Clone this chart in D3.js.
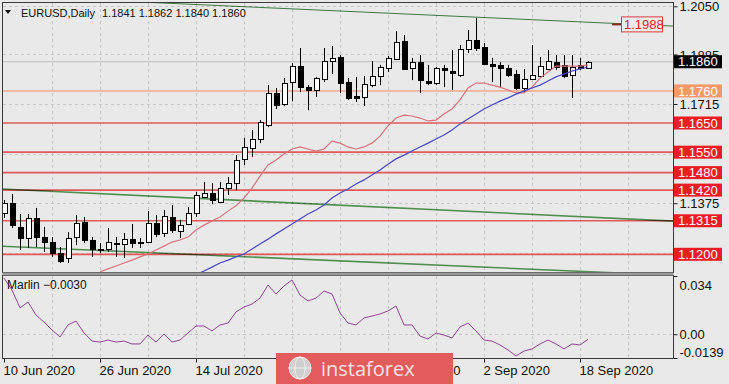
<!DOCTYPE html>
<html>
<head>
<meta charset="utf-8">
<title>EURUSD Daily</title>
<script src="https://cdnjs.cloudflare.com/ajax/libs/d3/7.8.5/d3.min.js"></script>
<style>
body { margin:0; background:#e9e9e9; }
svg { display:block; font-family:"Liberation Sans", Arial, sans-serif; }
.grid { stroke:#c6c6c6; stroke-dasharray:3,3; shape-rendering:crispEdges; }
.axis text { font-size:13px; fill:#111; }
.axis line { stroke:#222; }
.axis path { display:none; }
</style>
</head>
<body>
<div id="chart"></div>
<script>
// ---- data ----
var symbol = 'EURUSD,Daily';
var first_day = '2020-06-10';

var opens = [1.1342,1.1376,1.1294,1.1256,1.1324,1.1259,1.1242,1.1204,1.1187,1.1259,
    1.1311,1.1249,1.1217,1.1218,1.1239,1.1235,1.1252,1.1243,1.1242,1.1307,
    1.1273,1.1328,1.1280,1.1304,1.1342,1.1396,1.1410,1.1379,1.1427,1.1444,
    1.1527,1.1564,1.1595,1.1643,1.1753,1.1715,1.1790,1.1845,1.1773,1.1763,
    1.1801,1.1862,1.1876,1.1790,1.1742,1.1739,1.1780,1.1811,1.1839,1.1869,
    1.1931,1.1839,1.1859,1.1794,1.1787,1.1839,1.1828,1.1815,1.1904,1.1934,
    1.1910,1.1852,1.1849,1.1839,1.1818,1.1770,1.1801,1.1811,1.1835,1.1859,
    1.1849,1.1815,1.1849,1.1841];
var highs = [1.1386,1.1407,1.1338,1.1338,1.1359,1.1294,1.1259,1.1225,1.1276,1.1335,
    1.1328,1.1259,1.1239,1.1290,1.1259,1.1273,1.1304,1.1256,1.1348,1.1335,
    1.1352,1.1369,1.1318,1.1362,1.1414,1.1448,1.1444,1.1448,1.1465,1.1540,
    1.1599,1.1626,1.1660,1.1780,1.1770,1.1804,1.1856,1.1907,1.1780,1.1808,
    1.1907,1.1914,1.1883,1.1804,1.1808,1.1811,1.1862,1.1849,1.1880,1.1965,
    1.1952,1.1873,1.1883,1.1849,1.1842,1.1849,1.1900,1.1917,1.1969,1.2010,
    1.1924,1.1873,1.1859,1.1849,1.1832,1.1835,1.1917,1.1876,1.1900,1.1883,
    1.1883,1.1883,1.1873,1.1862];
var lows = [1.1324,1.1290,1.1215,1.1222,1.1225,1.1208,1.1191,1.1170,1.1170,1.1232,
    1.1239,1.1191,1.1204,1.1208,1.1191,1.1187,1.1222,1.1222,1.1242,1.1259,
    1.1259,1.1273,1.1256,1.1300,1.1328,1.1393,1.1372,1.1376,1.1403,1.1420,
    1.1506,1.1534,1.1581,1.1636,1.1698,1.1708,1.1725,1.1756,1.1694,1.1739,
    1.1790,1.1818,1.1753,1.1729,1.1722,1.1708,1.1773,1.1780,1.1825,1.1866,
    1.1832,1.1797,1.1753,1.1780,1.1780,1.1773,1.1763,1.1808,1.1890,1.1897,
    1.1849,1.1790,1.1770,1.1808,1.1763,1.1753,1.1797,1.1808,1.1832,1.1832,
    1.1804,1.1736,1.1832,1.1840];
var closes = [1.1376,1.1300,1.1256,1.1324,1.1259,1.1242,1.1204,1.1177,1.1256,1.1307,
    1.1249,1.1218,1.1219,1.1242,1.1235,1.1252,1.1239,1.1242,1.1307,1.1270,
    1.1331,1.1283,1.1300,1.1342,1.1403,1.1410,1.1386,1.1427,1.1444,1.1523,
    1.1568,1.1595,1.1653,1.1753,1.1712,1.1787,1.1845,1.1773,1.1763,1.1804,
    1.1862,1.1873,1.1787,1.1736,1.1736,1.1784,1.1811,1.1842,1.1873,1.1928,
    1.1835,1.1859,1.1797,1.1787,1.1839,1.1832,1.1821,1.1904,1.1934,1.1907,
    1.1852,1.1845,1.1839,1.1815,1.1770,1.1801,1.1815,1.1845,1.1862,1.1842,
    1.1811,1.1842,1.1839,1.1860];

// red (fast) and blue (slow) moving averages, null where not on screen
var ma_fast = [null,null,null,null,null,null,null,null,null,null,null,null,1.1140,
    1.1150,1.1160,1.1170,1.1180,1.1191,1.1201,1.1215,1.1228,1.1242,1.1249,
    1.1259,1.1283,1.1300,1.1314,1.1328,1.1348,1.1366,1.1393,1.1427,1.1468,
    1.1506,1.1523,1.1544,1.1561,1.1568,1.1561,1.1554,1.1561,1.1588,1.1581,
    1.1568,1.1561,1.1568,1.1581,1.1605,1.1640,1.1667,1.1677,1.1674,1.1667,
    1.1657,1.1660,1.1681,1.1698,1.1729,1.1770,1.1787,1.1787,1.1780,1.1773,
    1.1763,1.1753,1.1753,1.1773,1.1804,1.1825,1.1845,1.1845,1.1845,1.1845,
    1.1849];
var ma_slow = [null,null,null,null,null,null,null,null,null,null,null,null,
    null,null,null,null,null,null,null,null,null,null,null,null,1.1130,
    1.1143,1.1156,1.1170,1.1180,1.1191,1.1201,1.1218,1.1235,1.1252,1.1270,
    1.1287,1.1304,1.1321,1.1338,1.1352,1.1369,1.1393,1.1410,1.1424,1.1441,
    1.1455,1.1472,1.1489,1.1509,1.1527,1.1540,1.1554,1.1568,1.1581,1.1595,
    1.1609,1.1626,1.1647,1.1664,1.1681,1.1698,1.1712,1.1725,1.1736,1.1749,
    1.1760,1.1770,1.1780,1.1794,1.1808,1.1818,1.1828,1.1835,1.1842];

// Marlin oscillator
var marlin = [0.0328,0.0258,0.0154,0.0188,0.0112,0.0071,0.0025,-0.0016,0.0054,0.0077,
    0.0007,-0.0040,-0.0046,-0.0034,-0.0046,-0.0040,-0.0057,-0.0057,-0.0005,-0.0046,
    0.0001,-0.0046,-0.0034,0.0007,0.0048,0.0048,0.0019,0.0054,0.0065,0.0130,
    0.0159,0.0176,0.0211,0.0287,0.0235,0.0282,0.0317,0.0229,0.0194,0.0211,
    0.0252,0.0235,0.0124,0.0065,0.0054,0.0095,0.0106,0.0118,0.0136,0.0165,
    0.0054,0.0054,-0.0011,-0.0028,0.0007,-0.0005,-0.0022,0.0042,0.0065,0.0019,
    -0.0034,-0.0040,-0.0063,-0.0092,-0.0127,-0.0098,-0.0086,-0.0057,-0.0034,-0.0057,
    -0.0086,-0.0057,-0.0063,-0.0030];
var marlin_min = -0.0139, marlin_max = 0.034;

// horizontal levels
var red_levels = [1.1650,1.1550,1.1480,1.1420,1.1315,1.1200];
var orange_level = 1.1760;
var last_price = 1.1860;
var grid_prices = [1.2050,1.1885,1.1715,1.1545,1.1375,1.1205];

// trend lines: two anchors each (bar index, price)
var trend_lines = [
    {a:[16,1.2066], b:[79,1.1988], color:'#3d7a3d', label:'1.1988'},
    {a:[-0.5,1.1424], b:[83.5,1.1314], color:'#4f8f4f'},
    {a:[-0.5,1.1228], b:[70.9,1.1143], color:'#4f8f4f'}
];

var date_labels = ['10 Jun 2020','26 Jun 2020','14 Jul 2020','30 Jul 2020','17 Aug 2020','2 Sep 2020','18 Sep 2020'];

// ---- layout ----
var width = 729, height = 384;
var left = 2.5, axis_x = 673.5;
var main_top = 2.5, main_bottom = 272.5;
var sub_top = 275.5, sub_bottom = 358.5;
var bar_step = 8;

// trading days from the first date (weekends skipped)
var parse_day = d3.timeParse('%Y-%m-%d');
var days = [];
var d = parse_day(first_day);
while (days.length < opens.length) {
    if (d.getDay() != 0 && d.getDay() != 6) days.push(new Date(d));
    d = d3.timeDay.offset(d, 1);
}
var fmt_label = d3.timeFormat('%-d %b %Y');

var x = d3.scaleLinear().domain([0, opens.length - 1]).range([4, 4 + bar_step * (opens.length - 1)]);
var y = d3.scaleLinear().domain([1.1200, 1.2050]).range([254.3, 6.3]);
var ym = d3.scaleLinear().domain([marlin_min, marlin_max]).range([sub_bottom - 0.5, sub_top + 0.5]);

var svg = d3.select('#chart').append('svg').attr('width', width).attr('height', height);
svg.append('rect').attr('width', width).attr('height', height).attr('fill', '#e9e9e9');

var defs = svg.append('defs');
defs.append('clipPath').attr('id', 'clip-main').append('rect')
    .attr('x', left).attr('y', main_top).attr('width', axis_x - left).attr('height', main_bottom - main_top);
defs.append('clipPath').attr('id', 'clip-sub').append('rect')
    .attr('x', left).attr('y', sub_top).attr('width', axis_x - left).attr('height', sub_bottom - sub_top);

var main = svg.append('g').attr('clip-path', 'url(#clip-main)');
var sub = svg.append('g').attr('clip-path', 'url(#clip-sub)');

// vertical grid every 6 bars, on both windows
var vgrid = d3.range(6, 84, 6);
[[main, main_top, main_bottom], [sub, sub_top, sub_bottom]].forEach(function(w) {
    w[0].selectAll('.vg').data(vgrid).enter().append('line')
        .attr('class', 'grid')
        .attr('x1', function(i) { return Math.round(x(i)) + 0.5; })
        .attr('x2', function(i) { return Math.round(x(i)) + 0.5; })
        .attr('y1', w[1]).attr('y2', w[2]);
});

// horizontal grid
main.selectAll('.hg').data(grid_prices).enter().append('line')
    .attr('class', 'grid')
    .attr('x1', left).attr('x2', axis_x)
    .attr('y1', function(p) { return Math.round(y(p)) + 0.5; })
    .attr('y2', function(p) { return Math.round(y(p)) + 0.5; });
sub.append('line').attr('class', 'grid')
    .attr('x1', left).attr('x2', axis_x)
    .attr('y1', Math.round(ym(0)) + 0.5).attr('y2', Math.round(ym(0)) + 0.5);

// current price line
main.append('line').attr('x1', left).attr('x2', axis_x)
    .attr('y1', y(last_price)).attr('y2', y(last_price))
    .attr('stroke', '#bdbdbd').attr('stroke-width', 1);

// levels
main.append('line').attr('x1', left).attr('x2', axis_x)
    .attr('y1', y(orange_level)).attr('y2', y(orange_level))
    .attr('stroke', '#f2a88a').attr('stroke-width', 1.5);
main.selectAll('.lvl').data(red_levels).enter().append('line')
    .attr('x1', left).attr('x2', axis_x)
    .attr('y1', function(p) { return y(p); })
    .attr('y2', function(p) { return y(p); })
    .attr('stroke', '#e05a5a').attr('stroke-width', 1.7);

// trend lines, extended across the window
function trend_price(t, i) {
    return t.a[1] + (t.b[1] - t.a[1]) * (i - t.a[0]) / (t.b[0] - t.a[0]);
}
var i_left = x.invert(left), i_right = x.invert(axis_x);
main.selectAll('.trend').data(trend_lines).enter().append('line')
    .attr('x1', left).attr('x2', axis_x)
    .attr('y1', function(t) { return y(trend_price(t, i_left)); })
    .attr('y2', function(t) { return y(trend_price(t, i_right)); })
    .attr('stroke', function(t) { return t.color; })
    .attr('stroke-width', function(t, k) { return k == 0 ? 1 : 1.6; })
    .style('mix-blend-mode', 'multiply');

// candles
var candles = main.selectAll('.candle').data(opens).enter().append('g');
candles.append('line')
    .attr('x1', function(o, i) { return Math.round(x(i)) + 0.5; })
    .attr('x2', function(o, i) { return Math.round(x(i)) + 0.5; })
    .attr('y1', function(o, i) { return y(highs[i]); })
    .attr('y2', function(o, i) { return y(lows[i]); })
    .attr('stroke', '#000').attr('stroke-width', 1);
candles.append('rect')
    .attr('x', function(o, i) { return Math.round(x(i)) - 2 + 0.5; })
    .attr('width', 5)
    .attr('y', function(o, i) { return Math.round(y(Math.max(o, closes[i]))) + 0.5; })
    .attr('height', function(o, i) { return Math.max(1, Math.round(Math.abs(y(o) - y(closes[i])))); })
    .attr('fill', function(o, i) { return closes[i] >= o ? '#fff' : '#000'; })
    .attr('stroke', '#000').attr('stroke-width', 1);

// moving averages
function ma_line(arr) {
    return d3.line()
        .defined(function(v) { return v != null; })
        .x(function(v, i) { return x(i); })
        .y(function(v) { return y(v); })(arr);
}
main.append('path').attr('d', ma_line(ma_fast)).attr('fill', 'none')
    .attr('stroke', '#d9737b').attr('stroke-width', 1.2);
main.append('path').attr('d', ma_line(ma_slow)).attr('fill', 'none')
    .attr('stroke', '#4848c8').attr('stroke-width', 1.2);

// Marlin
sub.append('path')
    .attr('d', d3.line().x(function(v, i) { return x(i); }).y(function(v) { return ym(v); })(marlin))
    .attr('fill', 'none').attr('stroke', '#94459a').attr('stroke-width', 1);

// window frames
svg.append('rect').attr('x', left).attr('y', main_top).attr('width', axis_x - left).attr('height', main_bottom - main_top)
    .attr('fill', 'none').attr('stroke', '#3a3a3a').attr('stroke-width', 1);
svg.append('rect').attr('x', left).attr('y', sub_top).attr('width', axis_x - left).attr('height', sub_bottom - sub_top)
    .attr('fill', 'none').attr('stroke', '#3a3a3a').attr('stroke-width', 1);
svg.append('rect').attr('x', left).attr('y', main_bottom).attr('width', axis_x - left).attr('height', sub_top - main_bottom)
    .attr('fill', '#9a9a9a');

// price axis (labels sitting under a level tag are not drawn, as they are hidden anyway)
var tag_prices = red_levels.concat([orange_level]);
var price_axis = svg.append('g').attr('class', 'axis')
    .attr('transform', 'translate(' + axis_x + ',0)')
    .call(d3.axisRight(y).tickValues(grid_prices).tickSize(4).tickPadding(2).tickFormat(d3.format('.4f')));
price_axis.selectAll('text').attr('dy', '0.36em');
price_axis.selectAll('.tick').filter(function(p) {
    return tag_prices.some(function(q) { return Math.abs(y(p) - y(q)) < 8; });
}).select('text').remove();

// Marlin axis
var sub_axis = svg.append('g').attr('class', 'axis')
    .attr('transform', 'translate(' + axis_x + ',0)')
    .call(d3.axisRight(ym).tickValues([marlin_max, 0, marlin_min]).tickSize(4).tickPadding(2)
        .tickFormat(function(v) { return v == 0 ? '0.00' : String(v); }));
sub_axis.selectAll('.tick').filter(function(v) { return v == marlin_max; }).select('text').attr('dy', '1.0em');
sub_axis.selectAll('.tick').filter(function(v) { return v == marlin_min; }).select('text').attr('dy', '-0.15em');

// date axis
var date_idx = date_labels.map(function(s) {
    var t = d3.timeParse('%d %b %Y')(s);
    return d3.bisector(function(dd) { return dd; }).left(days, t);
});
var date_axis = svg.append('g').attr('class', 'axis')
    .attr('transform', 'translate(0,' + sub_bottom + ')')
    .call(d3.axisBottom(x).tickValues(date_idx).tickSize(4).tickPadding(3)
        .tickFormat(function(i) { return fmt_label(days[i]); }));
date_axis.selectAll('text').attr('text-anchor', 'start').attr('dx', '-1');

// level price tags
function tag(p, bg, fg, txt) {
    var g = svg.append('g').attr('transform', 'translate(' + (axis_x + 0.5) + ',' + y(p) + ')');
    g.append('rect').attr('x', 0).attr('y', -6.5).attr('width', 48).attr('height', 13).attr('fill', bg);
    g.append('text').attr('x', 4).attr('y', 0).attr('dy', '0.36em')
        .attr('font-size', 13).attr('fill', fg).text(txt);
}
red_levels.forEach(function(p) { tag(p, '#ec1c24', '#fff', d3.format('.4f')(p)); });
tag(orange_level, '#f7986a', '#fff', d3.format('.4f')(orange_level));
tag(last_price, '#000', '#fff', d3.format('.4f')(last_price));

// trend line price label
var tl = trend_lines[0];
var tl_y = y(trend_price(tl, tl.b[0]));
svg.append('line').attr('x1', 612).attr('x2', 622).attr('y1', tl_y).attr('y2', tl_y)
    .attr('stroke', '#8a2a20').attr('stroke-width', 2);
svg.append('rect').attr('x', 621.5).attr('y', tl_y - 7.5).attr('width', 41).attr('height', 15)
    .attr('fill', '#ececec').attr('stroke', '#e03a3a');
svg.append('text').attr('x', 624).attr('y', tl_y).attr('dy', '0.36em')
    .attr('font-size', 13).attr('fill', '#e02828').text(tl.label);

// titles
svg.append('path').attr('d', 'M5,10 L11,10 L8,14 Z').attr('fill', '#111');
svg.append('text').attr('x', 21).attr('y', 17).attr('font-size', 11).attr('fill', '#111').text(symbol);
svg.append('text').attr('x', 102).attr('y', 17).attr('font-size', 11).attr('fill', '#111')
    .text([opens, highs, lows, closes].map(function(a) { return d3.format('.4f')(a[a.length - 1]); }).join(' '));
svg.append('text').attr('x', 7).attr('y', 289).attr('font-size', 12).attr('fill', '#111')
    .text('Marlin ' + d3.format('.4f')(marlin[marlin.length - 1]));

// watermark
var wm = svg.append('g');
wm.append('rect').attr('x', 276).attr('y', 353).attr('width', 177).attr('height', 31)
    .attr('fill', '#e25c5c');
wm.append('circle').attr('cx', 300).attr('cy', 368).attr('r', 11)
    .attr('fill', '#cfcfcf').attr('stroke', '#f0f0f0').attr('stroke-width', 1);
wm.append('ellipse').attr('cx', 300).attr('cy', 368).attr('rx', 5).attr('ry', 11)
    .attr('fill', 'none').attr('stroke', '#f0f0f0').attr('stroke-width', 1);
wm.append('line').attr('x1', 289).attr('x2', 311).attr('y1', 368).attr('y2', 368)
    .attr('stroke', '#f0f0f0').attr('stroke-width', 1);
wm.append('text').attr('x', 321).attr('y', 376).attr('font-size', 20)
    .attr('font-family', '"Open Sans", "Liberation Sans", sans-serif')
    .attr('fill', '#fbe3e3').text('instaforex');
</script>
</body>
</html>
